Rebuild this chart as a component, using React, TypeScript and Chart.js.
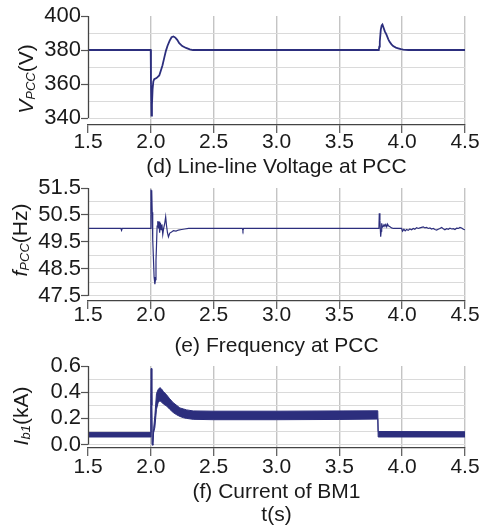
import { useEffect, useRef } from 'react';
import { Chart, registerables } from 'chart.js';

Chart.register(...registerables);

const FONT = '"Liberation Sans", Arial, Helvetica, sans-serif';
const NAVY = '#2c2e7d';
const CLEAR = 'rgba(0,0,0,0)';

// shared x axis (time, s)
const xTicks = [1.5, 2.0, 2.5, 3.0, 3.5, 4.0, 4.5];

// (d) line-line voltage at PCC
const voltTicks = [340, 350, 360, 370, 380, 390, 400];
const voltLabels = [340, 360, 380, 400];
const voltageTime = [1.5, 1.999, 2.001, 2.005, 2.009, 2.014, 2.02, 2.027, 2.045, 2.067, 2.08, 2.093, 2.107, 2.12, 2.133, 2.15, 2.165, 2.18, 2.195, 2.21, 2.226, 2.25, 2.28, 2.31, 2.335, 2.38, 3.814, 3.818, 3.822, 3.83, 3.837, 3.843, 3.85, 3.862, 3.875, 3.89, 3.9, 3.915, 3.928, 3.95, 3.968, 3.99, 4.008, 4.05, 4.5];
const voltageValue = [380, 380, 362, 341.5, 348, 357, 361.5, 362.8, 363.5, 365, 368, 371, 375.5, 379.5, 382.5, 385.5, 387.5, 388, 387.3, 386, 384, 382.3, 381.2, 380.4, 380, 380, 380, 382, 385, 392, 394.5, 395, 393.5, 391, 389, 386.3, 384.8, 383.3, 382.3, 381.4, 381, 380.5, 380.2, 380, 380];

// (e) frequency at PCC
const freqTicks = [47.5, 48, 48.5, 49, 49.5, 50, 50.5, 51, 51.5];
const freqLabels = [47.5, 48.5, 49.5, 50.5, 51.5];
const freqTime = [
  1.5, 1.762, 1.767, 1.772, 1.998,
  2.001, 2.004, 2.007, 2.011, 2.015, 2.02, 2.026, 2.032, 2.037, 2.041,
  2.045, 2.05, 2.055, 2.061, 2.065, 2.07, 2.076, 2.082, 2.088, 2.095,
  2.102, 2.111, 2.118, 2.125, 2.132, 2.14, 2.151, 2.165, 2.18, 2.2,
  2.22, 2.245, 2.27, 2.3,
  2.728, 2.733, 2.738,
  3.815, 3.818, 3.823, 3.829, 3.833, 3.837, 3.843, 3.85, 3.856, 3.863,
  3.87, 3.877, 3.884, 3.89, 3.903, 3.916, 3.93, 3.996,
  4.003, 4.014, 4.024, 4.035, 4.048, 4.061, 4.075, 4.088, 4.101, 4.115,
  4.128, 4.141, 4.155, 4.168, 4.181, 4.194, 4.208, 4.221, 4.234, 4.247,
  4.261, 4.274, 4.287, 4.3, 4.314, 4.327, 4.34, 4.354, 4.367, 4.38,
  4.394, 4.407, 4.42, 4.433, 4.447, 4.46, 4.473, 4.487, 4.5,
];
const freqValue = [
  50, 50, 49.93, 50, 50,
  51.44, 51.1, 51.42, 50.6, 49.6, 48.97, 48.2, 47.93, 48.1, 48.8,
  49.35, 50.09, 50.27, 50.0, 50.26, 49.84, 50.21, 49.96, 50.15, 49.78,
  50.0, 50.2, 50.43, 50.1, 49.85, 49.69, 49.83, 49.87, 49.92, 49.9,
  49.94, 49.96, 49.98, 50,
  50, 49.92, 50,
  50, 50.56, 50.3, 49.69, 49.9, 50.19, 50.05, 50.08, 50.14, 50.1,
  50.15, 50.06, 50.16, 50.1, 50.06, 50.02, 50.0, 50.0,
  49.9, 49.97, 49.91, 49.96, 49.93, 49.98, 49.95, 50.0, 49.97, 50.03,
  50.0, 50.02, 50.04, 50.06, 50.02, 50.04, 50.0, 50.02, 49.98, 50.0,
  49.96, 49.94, 49.97, 50.0, 50.04, 49.99, 49.95, 49.99, 49.97, 50.01,
  49.98, 49.99, 49.96, 50.01, 50.0, 50.04, 50.02, 49.97, 49.95,
];

// (f) current of BM1 (ripple band: upper / lower envelope)
const currTicks = [0, 0.1, 0.2, 0.3, 0.4, 0.5, 0.6];
const currLabels = [0, 0.2, 0.4, 0.6];
const currentTime = [1.5, 1.999, 2.001, 2.004, 2.007, 2.011, 2.016, 2.022, 2.032, 2.045, 2.058, 2.072, 2.085, 2.1, 2.125, 2.15, 2.178, 2.205, 2.231, 2.26, 2.284, 2.337, 2.5, 3.0, 3.5, 3.806, 3.809, 4.5];
const currentUpper = [0.093, 0.093, 0.35, 0.58, 0.3, 0.0, -0.004, 0.12, 0.22, 0.39, 0.42, 0.435, 0.425, 0.405, 0.38, 0.35, 0.32, 0.3, 0.28, 0.272, 0.265, 0.257, 0.255, 0.255, 0.257, 0.258, 0.1, 0.098];
const currentLower = [0.058, 0.058, 0.35, 0.58, 0.3, 0.0, -0.004, 0.09, 0.13, 0.27, 0.32, 0.335, 0.325, 0.31, 0.295, 0.27, 0.245, 0.228, 0.215, 0.205, 0.2, 0.193, 0.19, 0.19, 0.192, 0.195, 0.058, 0.058];

const pts = (t: number[], v: number[]) => t.map((x, i) => ({ x, y: v[i] }));

type Part = { text: string; size: number; italic: boolean; shift: number };
type Decor = { axisTop: number; axisBottom: number; titleX: number; titleY: number; parts: Part[] };

function makeDecor(d: Decor) {
  return {
    id: 'axisDecor',
    afterDraw(chart: any) {
      const { ctx, chartArea, scales } = chart;
      const y = scales.y;
      ctx.save();
      ctx.strokeStyle = '#444';
      ctx.lineWidth = 1.3;
      ctx.beginPath();
      const x0 = Math.round(chartArea.left) + 0.5;
      ctx.moveTo(x0, y.getPixelForValue(d.axisTop));
      ctx.lineTo(x0, y.getPixelForValue(d.axisBottom));
      ctx.stroke();
      ctx.translate(d.titleX, d.titleY);
      ctx.rotate(-Math.PI / 2);
      ctx.fillStyle = '#1a1a1a';
      ctx.textBaseline = 'alphabetic';
      ctx.textAlign = 'left';
      const fontOf = (p: Part) => (p.italic ? 'italic ' : 'normal ') + p.size + 'px ' + FONT;
      let total = 0;
      for (const p of d.parts) {
        ctx.font = fontOf(p);
        total += ctx.measureText(p.text).width;
      }
      let x = -total / 2;
      for (const p of d.parts) {
        ctx.font = fontOf(p);
        ctx.fillText(p.text, x, p.shift);
        x += ctx.measureText(p.text).width;
      }
      ctx.restore();
    },
  };
}

type Spec = {
  top: number;
  height: number;
  padTop: number;
  xHeight: number;
  xTickPad: number;
  yMin: number;
  yMax: number;
  yTicks: number[];
  yLabels: number[];
  fmt: (v: number) => string;
  xTitle: string | string[];
  titleLH: number;
  datasets: any[];
  decor: Decor;
};

function makeConfig(p: Spec): any {
  return {
    type: 'line',
    data: { datasets: p.datasets },
    plugins: [makeDecor(p.decor)],
    options: {
      animation: false,
      responsive: true,
      maintainAspectRatio: false,
      events: [],
      layout: { autoPadding: false, padding: { top: p.padTop, right: 16, bottom: 0, left: 0 } },
      elements: { point: { radius: 0 }, line: { tension: 0 } },
      plugins: {
        legend: { display: false },
        tooltip: { enabled: false },
      },
      scales: {
        x: {
          type: 'linear',
          min: 1.5,
          max: 4.5,
          afterBuildTicks: (s: any) => {
            s.ticks = xTicks.map((v) => ({ value: v }));
          },
          afterFit: (s: any) => {
            s.height = p.xHeight;
          },
          ticks: {
            callback: (v: any) => Number(v).toFixed(1),
            font: { family: FONT, size: 21, lineHeight: 1 },
            color: '#1a1a1a',
            padding: p.xTickPad,
            maxRotation: 0,
            autoSkip: false,
          },
          grid: {
            color: (c: any) => (c.tick && c.tick.value === 1.5 ? CLEAR : '#c4c4c4'),
            lineWidth: 1.4,
            tickLength: 8,
            tickColor: '#555',
            tickWidth: 1.2,
          },
          border: { display: true, color: '#444', width: 1.3 },
          title: {
            display: true,
            text: p.xTitle,
            font: { family: FONT, size: 21, lineHeight: p.titleLH },
            color: '#1a1a1a',
            padding: { top: 0, bottom: 0 },
          },
        },
        y: {
          type: 'linear',
          min: p.yMin,
          max: p.yMax,
          afterBuildTicks: (s: any) => {
            s.ticks = p.yTicks.map((v) => ({ value: v }));
          },
          afterFit: (s: any) => {
            s.width = 88;
          },
          ticks: {
            autoSkip: false,
            callback: (v: any) => (p.yLabels.includes(v) ? p.fmt(v) : ''),
            font: { family: FONT, size: 22 },
            color: '#1a1a1a',
            padding: 0,
          },
          grid: {
            color: (c: any) => (c.tick && c.tick.value === p.yMax ? CLEAR : '#dadada'),
            lineWidth: 1,
            tickLength: 7,
            tickColor: (c: any) => (c.tick && p.yLabels.includes(c.tick.value) ? '#555' : CLEAR),
            tickWidth: 1.2,
          },
          border: { display: false },
        },
      },
    },
  };
}

const panels: Spec[] = [
  {
    top: 0,
    height: 180,
    padTop: 16,
    xHeight: 55,
    xTickPad: -1,
    yMin: 335.9,
    yMax: 400,
    yTicks: voltTicks,
    yLabels: voltLabels,
    fmt: (v) => String(v),
    xTitle: '(d) Line-line Voltage at PCC',
    titleLH: 1.2,
    datasets: [
      { data: pts(voltageTime, voltageValue), borderColor: NAVY, borderWidth: 1.8, fill: false },
    ],
    decor: {
      axisTop: 400,
      axisBottom: 340,
      titleX: 33,
      titleY: 79,
      parts: [
        { text: 'V', size: 21, italic: true, shift: 0 },
        { text: 'PCC', size: 13, italic: true, shift: 2 },
        { text: '(V)', size: 21, italic: false, shift: 0 },
      ],
    },
  },
  {
    top: 172,
    height: 186,
    padTop: 16,
    xHeight: 57,
    xTickPad: -4,
    yMin: 47.31,
    yMax: 51.5,
    yTicks: freqTicks,
    yLabels: freqLabels,
    fmt: (v) => v.toFixed(1),
    xTitle: '(e) Frequency at PCC',
    titleLH: 1.15,
    datasets: [
      { data: pts(freqTime, freqValue), borderColor: NAVY, borderWidth: 1.2, fill: false },
    ],
    decor: {
      axisTop: 51.5,
      axisBottom: 47.5,
      titleX: 27,
      titleY: 68,
      parts: [
        { text: 'f', size: 21, italic: true, shift: 0 },
        { text: 'PCC', size: 13, italic: true, shift: 2 },
        { text: '(Hz)', size: 21, italic: false, shift: 0 },
      ],
    },
  },
  {
    top: 350,
    height: 177,
    padTop: 16,
    xHeight: 79,
    xTickPad: 1,
    yMin: -0.026,
    yMax: 0.6,
    yTicks: currTicks,
    yLabels: currLabels,
    fmt: (v) => v.toFixed(1),
    xTitle: ['(f) Current of BM1', 't(s)'],
    titleLH: 1.1,
    datasets: [
      { data: pts(currentTime, currentUpper), borderColor: NAVY, borderWidth: 1, fill: false },
      { data: pts(currentTime, currentLower), borderColor: NAVY, borderWidth: 1, fill: '-1', backgroundColor: NAVY },
    ],
    decor: {
      axisTop: 0.6,
      axisBottom: 0,
      titleX: 28,
      titleY: 66,
      parts: [
        { text: 'I', size: 21, italic: true, shift: 0 },
        { text: 'b1', size: 13, italic: true, shift: 2 },
        { text: '(kA)', size: 21, italic: false, shift: 0 },
      ],
    },
  },
];

export default function App() {
  const r0 = useRef<HTMLCanvasElement>(null);
  const r1 = useRef<HTMLCanvasElement>(null);
  const r2 = useRef<HTMLCanvasElement>(null);
  const refs = [r0, r1, r2];

  useEffect(() => {
    const charts = panels.map((p, i) => new Chart(refs[i].current as HTMLCanvasElement, makeConfig(p)));
    return () => charts.forEach((c) => c.destroy());
  }, []);

  return (
    <div style={{ position: 'absolute', left: 0, top: 0, width: 481, height: 527, background: '#fff', overflow: 'hidden' }}>
      {panels.map((p, i) => (
        <div key={i} style={{ position: 'absolute', left: 0, top: p.top, width: 481, height: p.height }}>
          <canvas ref={refs[i]} />
        </div>
      ))}
    </div>
  );
}
